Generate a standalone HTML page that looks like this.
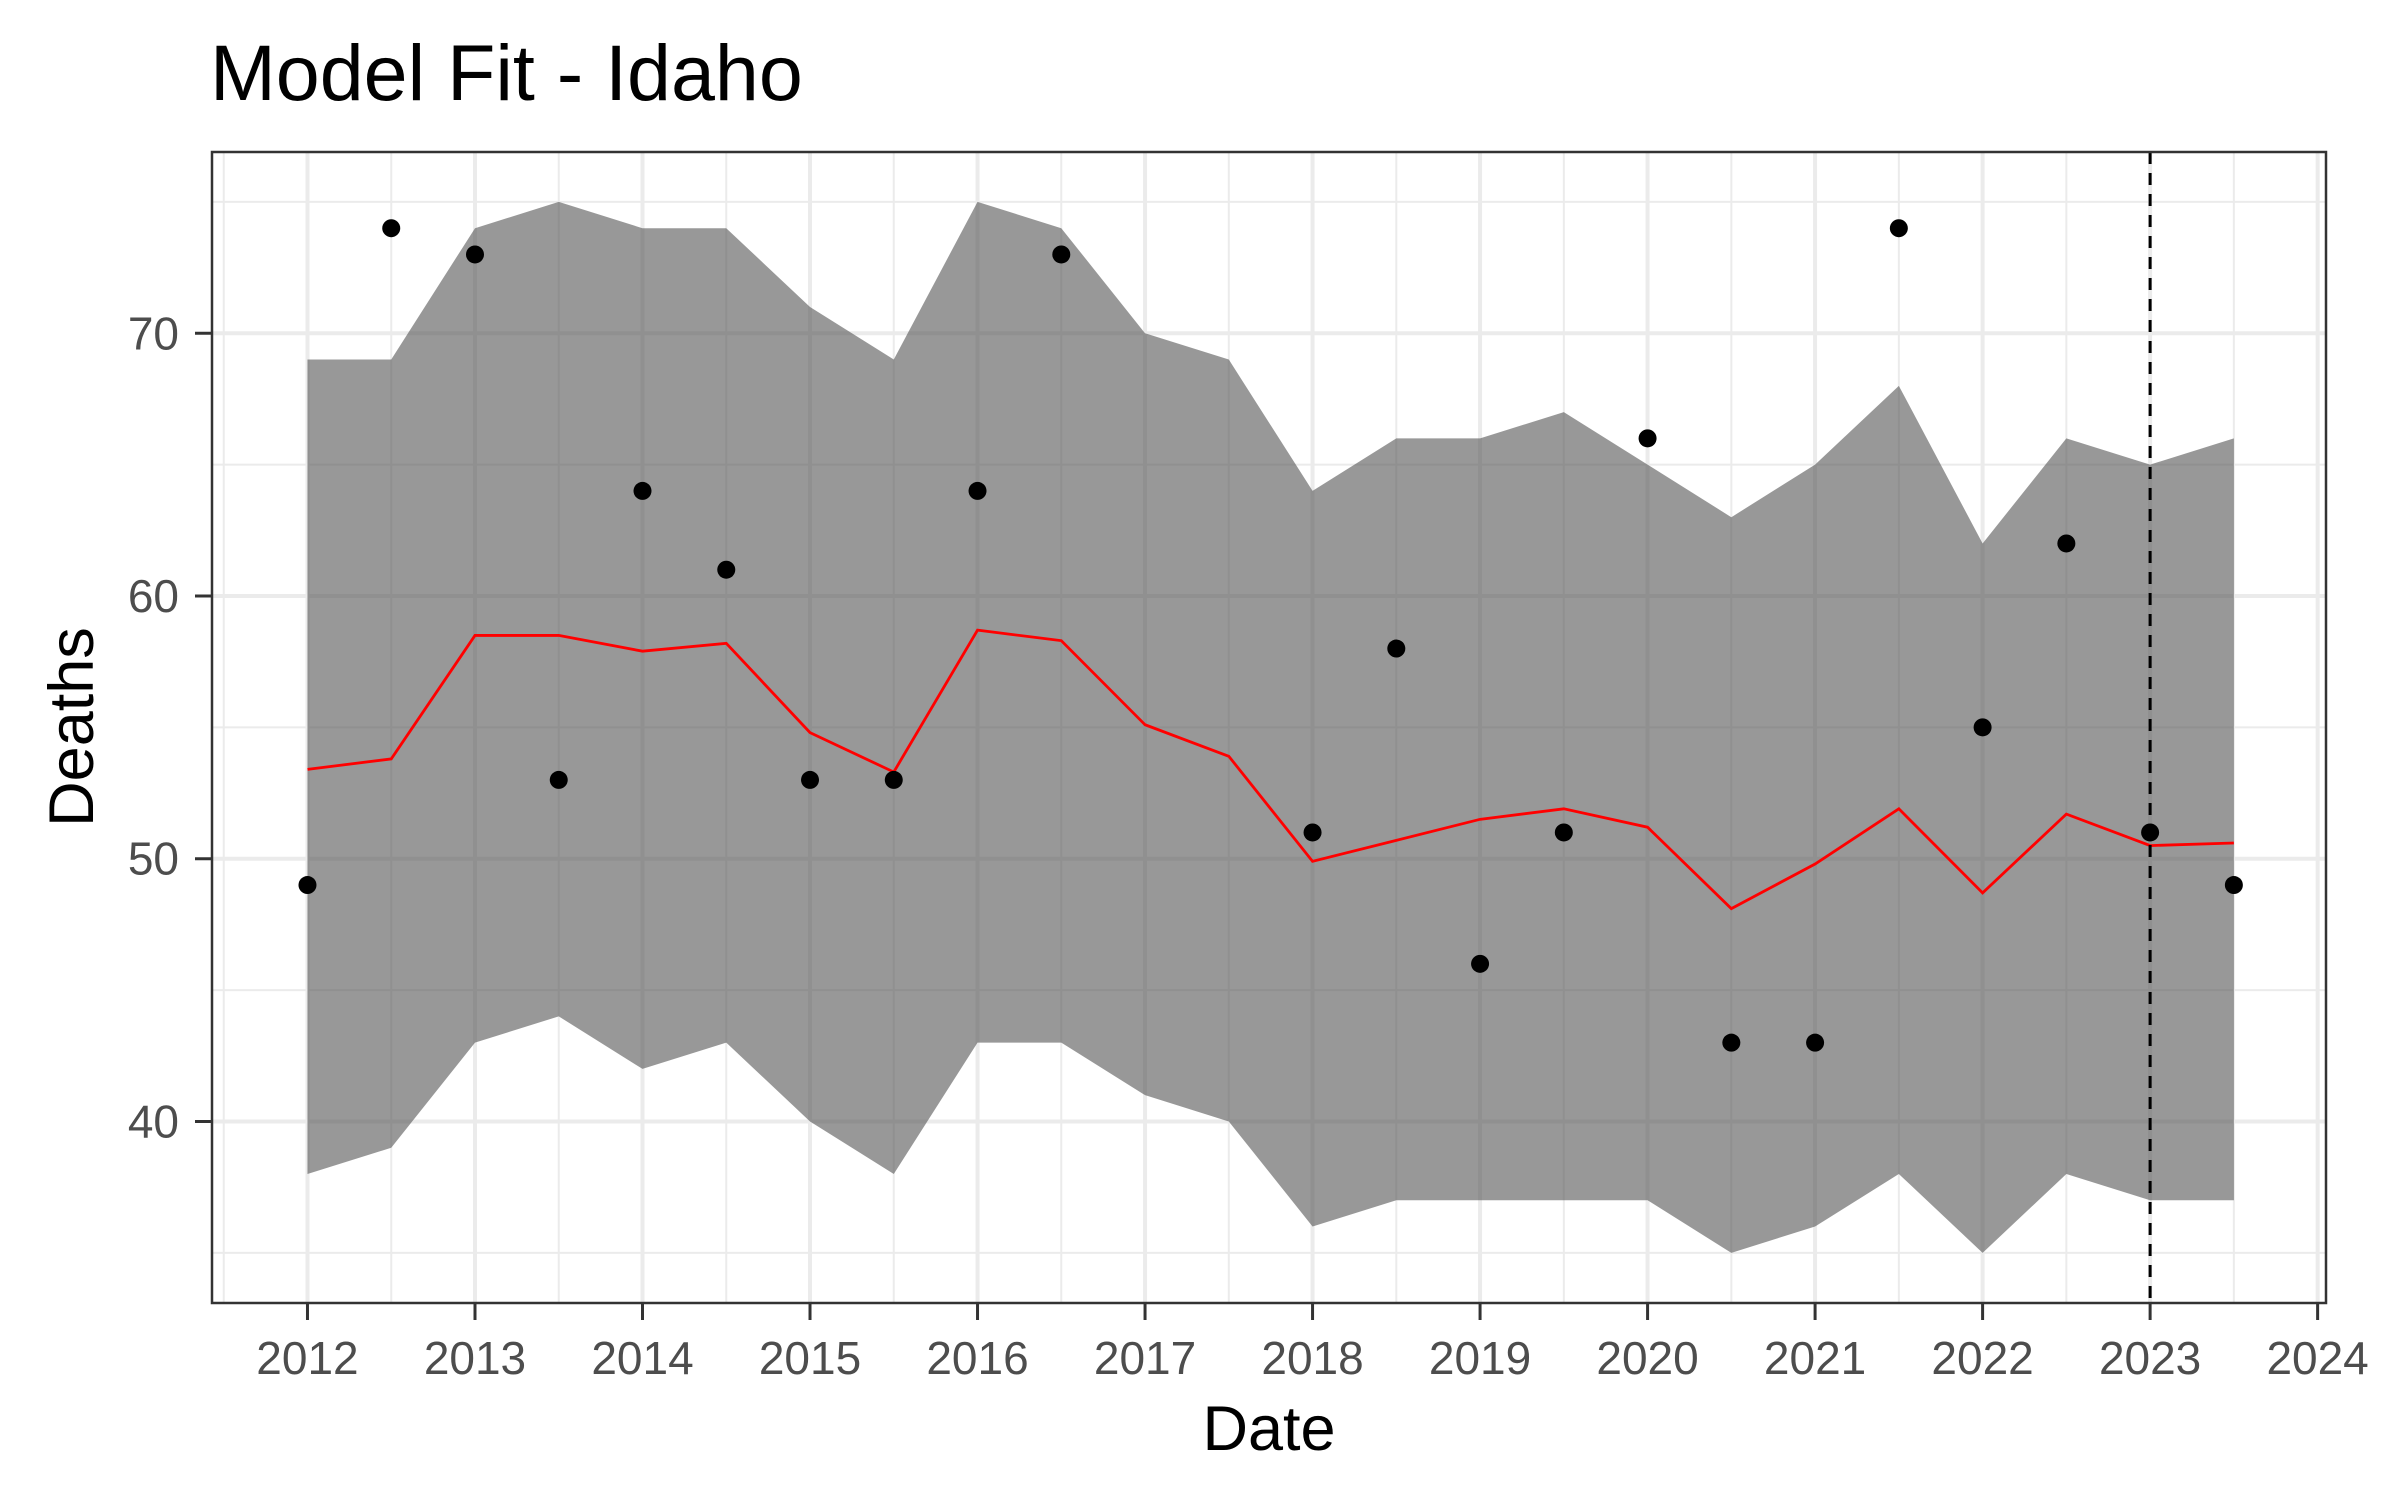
<!DOCTYPE html>
<html><head><meta charset="utf-8"><style>
html,body{margin:0;padding:0;background:#fff;}
svg{display:block;font-family:"Liberation Sans",Arial,sans-serif;}
</style></head><body>
<svg id="chart" width="2400" height="1500" viewBox="0 0 2400 1500" xmlns="http://www.w3.org/2000/svg">
<rect width="2400" height="1500" fill="#fff"/>
<text x="210" y="100" font-size="79" fill="#000">Model Fit - Idaho</text>
<g id="grid"></g>
<g id="ribbon"></g>
<g id="fitline"></g>
<g id="points"></g>
<g id="axes"></g>
<text transform="translate(93,727) rotate(-90)" text-anchor="middle" font-size="63" fill="#000">Deaths</text>
<text x="1269" y="1450" text-anchor="middle" font-size="63" fill="#000">Date</text>
</svg>
<script>
const dates=[2012,2012.5,2013,2013.5,2014,2014.5,2015,2015.5,2016,2016.5,2017,2017.5,2018,2018.5,2019,2019.5,2020,2020.5,2021,2021.5,2022,2022.5,2023,2023.5];
const observed=[49,74,73,53,64,61,53,53,64,73,null,null,51,58,46,51,66,43,43,74,55,62,51,49];
const upper=[69,69,74,75,74,74,71,69,75,74,70,69,64,66,66,67,65,63,65,68,62,66,65,66];
const lower=[38,39,43,44,42,43,40,38,43,43,41,40,36,37,37,37,37,35,36,38,35,38,37,37];
const fitted=[53.4,53.8,58.5,58.5,57.9,58.2,54.8,53.3,58.7,58.3,55.1,53.9,49.9,50.7,51.5,51.9,51.2,48.1,49.8,51.9,48.7,51.7,50.5,50.6];
const yTicks=[40,50,60,70];
const yMinor=[35,45,55,65,75];
const xTicks=[2012,2013,2014,2015,2016,2017,2018,2019,2020,2021,2022,2023,2024];
const cutoff=2023;

const L=212,R=2326,T=152,B=1303;
const x0=2011.43,x1=2024.05,y0=33.09,y1=76.9;
const sx=v=>L+(v-x0)/(x1-x0)*(R-L);
const sy=v=>B-(v-y0)/(y1-y0)*(B-T);
const NS="http://www.w3.org/2000/svg";
function mk(tag,attrs,parent){const e=document.createElementNS(NS,tag);for(const k in attrs)e.setAttribute(k,attrs[k]);document.getElementById(parent).appendChild(e);return e;}

mk('rect',{x:L,y:T,width:R-L,height:B-T,fill:'#fff'},'grid');
yMinor.forEach(v=>{const l=mk('line',{x1:L,x2:R,y1:sy(v),y2:sy(v),stroke:'#ebebeb','stroke-width':2},'grid');

});
for(let i=0;i<xTicks.length-1;i++){const v=xTicks[i]+0.5;const l=mk('line',{x1:sx(v),x2:sx(v),y1:T,y2:B,stroke:'#ebebeb','stroke-width':2},'grid');

}
{const v=xTicks[0]-0.5;const l=mk('line',{x1:sx(v),x2:sx(v),y1:T,y2:B,stroke:'#ebebeb','stroke-width':2},'grid');

}
yTicks.forEach(v=>{const l=mk('line',{x1:L,x2:R,y1:sy(v),y2:sy(v),stroke:'#ebebeb','stroke-width':4},'grid');

});
xTicks.forEach(v=>{const l=mk('line',{x1:sx(v),x2:sx(v),y1:T,y2:B,stroke:'#ebebeb','stroke-width':4},'grid');

});

let d='';
dates.forEach((t,i)=>{d+=(i?'L':'M')+sx(t)+','+sy(upper[i]);});
for(let i=dates.length-1;i>=0;i--)d+='L'+sx(dates[i])+','+sy(lower[i]);
d+='Z';
const rb=mk('path',{d:d,fill:'#4d4d4d','fill-opacity':0.58},'ribbon');



const fl=mk('polyline',{points:dates.map((t,i)=>sx(t)+','+sy(fitted[i])).join(' '),fill:'none',stroke:'#ff0000','stroke-width':2.8},'fitline');



dates.forEach((t,i)=>{if(observed[i]==null)return;const c=mk('circle',{cx:sx(t),cy:sy(observed[i]),r:9,fill:'#000'},'points');

});

const vl=mk('line',{x1:sx(cutoff),x2:sx(cutoff),y1:T,y2:B,stroke:'#000','stroke-width':3,'stroke-dasharray':'12,9'},'axes');


const fr=mk('rect',{x:L,y:T,width:R-L,height:B-T,fill:'none',stroke:'#333','stroke-width':2.5},'axes');


yTicks.forEach(v=>{mk('line',{x1:L-17,x2:L,y1:sy(v),y2:sy(v),stroke:'#333','stroke-width':3},'axes');
const tx=mk('text',{x:L-33,y:sy(v)+16,'text-anchor':'end','font-size':46,fill:'#4d4d4d'},'axes');tx.textContent=v;

});
xTicks.forEach(v=>{mk('line',{x1:sx(v),x2:sx(v),y1:B,y2:B+17,stroke:'#333','stroke-width':3},'axes');
const tx=mk('text',{x:sx(v),y:B+71,'text-anchor':'middle','font-size':46,fill:'#4d4d4d'},'axes');tx.textContent=v;

});
</script>
</body></html>
